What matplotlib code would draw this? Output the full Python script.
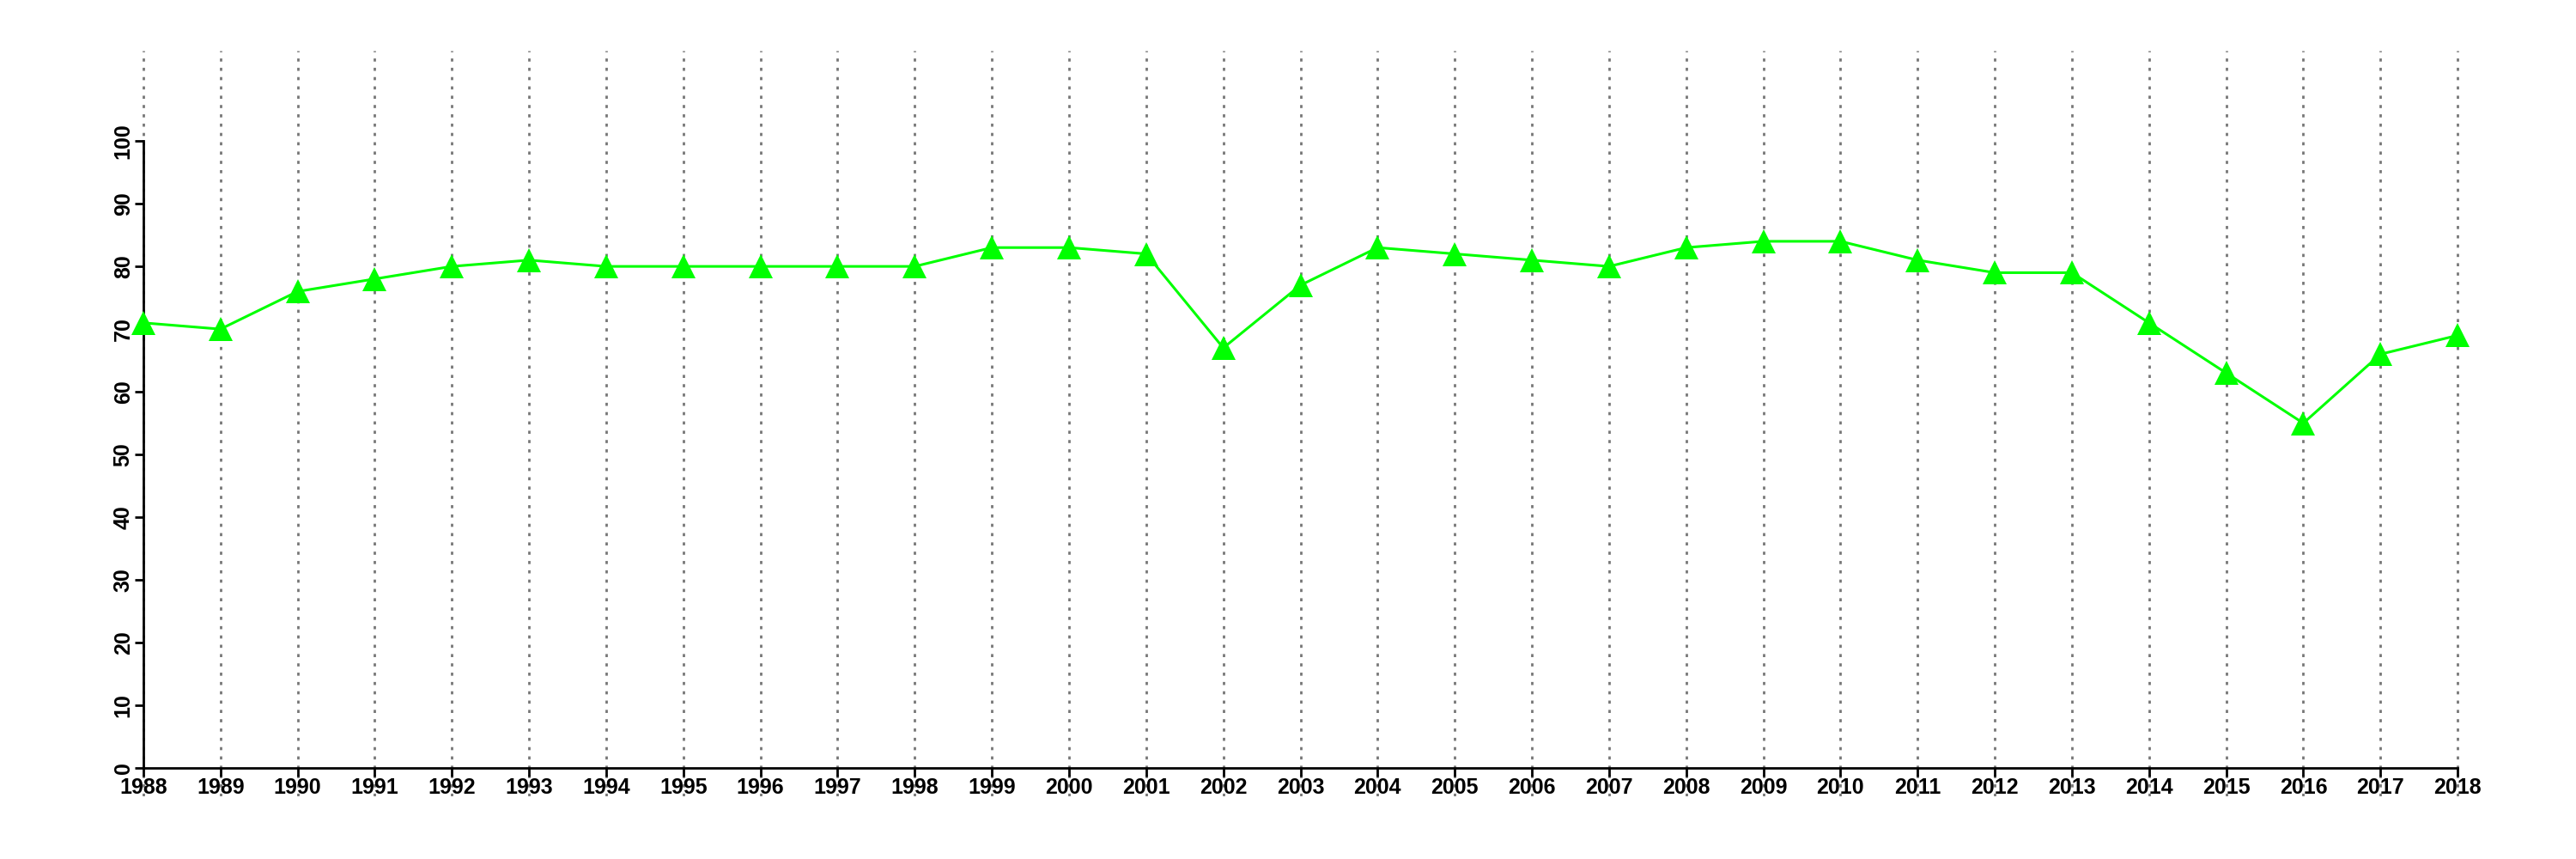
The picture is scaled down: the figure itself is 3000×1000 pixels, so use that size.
import matplotlib
matplotlib.use('Agg')
import matplotlib.pyplot as plt

years = list(range(1988, 2019))
values = [71, 70, 76, 78, 80, 81, 80, 80, 80, 80, 80, 83, 83, 82, 67, 77,
          83, 82, 81, 80, 83, 84, 84, 81, 79, 79, 71, 63, 55, 66, 69]
y_ticks = list(range(0, 101, 10))

plt.rcParams['font.family'] = ['Liberation Sans', 'DejaVu Sans']

fig = plt.figure(figsize=(30, 10), dpi=100)
# axes placed so 1988..2018 span the same pixels as the reference
ax = fig.add_axes([95 / 3000, 73 / 1000, 2839 / 3000, 868 / 1000])
ax.set_xlim(1987.2, 2018.8)
ax.set_ylim(-4.5, 114.4)

# vertical dotted grid at every year
for yr in years:
    ax.axvline(yr, color='#777777', linestyle=(0, (1.3, 2.6)), linewidth=2, zorder=1)

ax.plot(years, values, color='#00ff00', linewidth=2.2, marker='^',
        markersize=20, markeredgewidth=0, zorder=3)

for side in ['top', 'right']:
    ax.spines[side].set_visible(False)
ax.spines['left'].set_position(('data', 1988))
ax.spines['bottom'].set_position(('data', 0))
ax.spines['left'].set_bounds(0, 100)
ax.spines['bottom'].set_bounds(1988, 2018)
ax.spines['left'].set_linewidth(2)
ax.spines['bottom'].set_linewidth(2)

ax.set_xticks(years)
ax.set_xticklabels([str(y) for y in years], fontsize=18, fontweight='bold')
ax.set_yticks(y_ticks)
ax.set_yticklabels([str(v) for v in y_ticks], fontsize=18, fontweight='bold',
                   rotation=90, va='center')
ax.tick_params(axis='both', length=7, width=2, pad=1)

fig.savefig('out.png', dpi=100)
